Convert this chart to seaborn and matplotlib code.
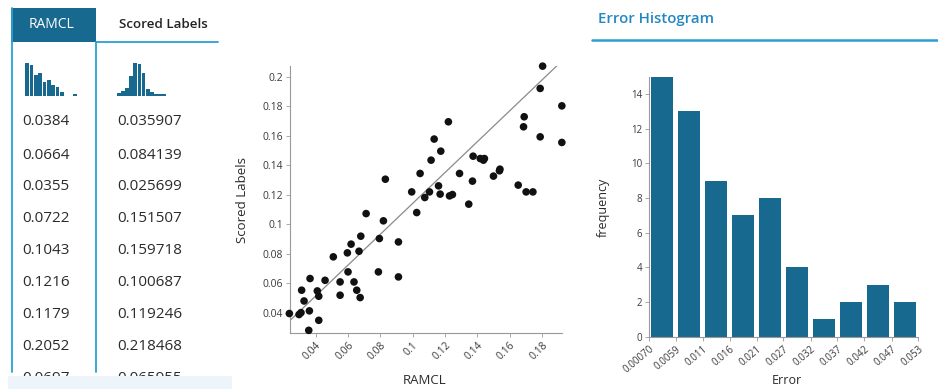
import numpy as np
import pandas as pd
import matplotlib
matplotlib.use("Agg")
import matplotlib.pyplot as plt
from matplotlib.patches import Rectangle
from matplotlib.lines import Line2D
import seaborn as sns

# ---- data -------------------------------------------------------------
ramcl = [0.0237, 0.0297, 0.0309, 0.0313, 0.0328, 0.0361, 0.0365, 0.0357, 0.0410, 0.0419,
         0.0419, 0.0458, 0.0509, 0.0551, 0.0551, 0.0596, 0.0600, 0.0619, 0.0637, 0.0654,
         0.0668, 0.0675, 0.0679, 0.0712, 0.0788, 0.0794, 0.0819, 0.0831, 0.0912, 0.0912,
         0.0994, 0.1025, 0.1046, 0.1075, 0.1104, 0.1114, 0.1133, 0.1160, 0.1174, 0.1170,
         0.1221, 0.1228, 0.1246, 0.1290, 0.1347, 0.1370, 0.1374, 0.1418, 0.1438, 0.1444,
         0.1500, 0.1537, 0.1540, 0.1653, 0.1686, 0.1690, 0.1702, 0.1744, 0.1789, 0.1789,
         0.1804, 0.1923, 0.1923]
scored = [0.0396, 0.0389, 0.0402, 0.0554, 0.0481, 0.0414, 0.0633, 0.0282, 0.0549, 0.0513,
          0.0350, 0.0621, 0.0780, 0.0610, 0.0520, 0.0807, 0.0678, 0.0866, 0.0610, 0.0554,
          0.0818, 0.0504, 0.0920, 0.1073, 0.0678, 0.0904, 0.1024, 0.1306, 0.0881, 0.0644,
          0.1220, 0.1080, 0.1345, 0.1182, 0.1220, 0.1435, 0.1578, 0.1261, 0.1496, 0.1205,
          0.1695, 0.1193, 0.1202, 0.1345, 0.1137, 0.1293, 0.1462, 0.1446, 0.1435, 0.1446,
          0.1327, 0.1363, 0.1374, 0.1266, 0.1661, 0.1729, 0.1220, 0.1220, 0.1593, 0.1921,
          0.2072, 0.1803, 0.1555]

# reference line drawn across the scatter
ref_x = [0.0199, 0.1934]
ref_y = [0.0305, 0.2118]

# error histogram
err_edge_labels = ["0.00070", "0.0059", "0.011", "0.016", "0.021", "0.027",
                   "0.032", "0.037", "0.042", "0.047", "0.053"]
err_edges = [0.0007, 0.0059, 0.0111, 0.0164, 0.0216, 0.0268,
             0.0321, 0.0373, 0.0425, 0.0478, 0.0530]
err_counts = [15, 13, 9, 7, 8, 4, 1, 2, 3, 2]

# table preview
ramcl_rows = ["0.0384", "0.0664", "0.0355", "0.0722", "0.1043", "0.1216", "0.1179", "0.2052", "0.0697"]
scored_rows = ["0.035907", "0.084139", "0.025699", "0.151507", "0.159718", "0.100687",
               "0.119246", "0.218468", "0.065955"]
ramcl_spark = [1.0, 0.93, 0.62, 0.68, 0.42, 0.48, 0.33, 0.28, 0.12, 0.0, 0.0, 0.07]
scored_spark = [0.08, 0.15, 0.25, 0.6, 1.0, 0.95, 0.7, 0.2, 0.12, 0.07, 0.05, 0.06]

# ---- styling ------------------------------------------------------------
sns.set_theme(style="white")
plt.rcParams["font.family"] = ["Open Sans", "DejaVu Sans"]

W, H = 938, 389
BAR = "#17698f"
ACCENT = "#2a9fd2"
TEXT = "#2b2b2b"
TICK = "#3a3a3a"

fig = plt.figure(figsize=(W / 100, H / 100), dpi=100)
fig.patch.set_facecolor("white")


def box(l, t, r, b):
    return [l / W, 1 - b / H, (r - l) / W, (b - t) / H]


def fx(x):
    return x / W


def fy(y):
    return 1 - y / H


# ---- table preview -------------------------------------------------------
fig.patches.append(Rectangle((fx(11), fy(42)), fx(96) - fx(11), fy(8) - fy(42),
                             transform=fig.transFigure, facecolor=BAR, edgecolor="none"))
fig.text(fx(51), fy(24), "RAMCL", color="white", fontsize=10, ha="center", va="center")
fig.text(fx(163), fy(24), "Scored Labels", color="#222222", fontsize=9.6,
         ha="center", va="center", fontweight="semibold")
fig.lines.append(Line2D([fx(96), fx(218)], [fy(42), fy(42)], transform=fig.transFigure,
                        color=ACCENT, lw=1.3))
for xv in (11.5, 96):
    fig.lines.append(Line2D([fx(xv), fx(xv)], [fy(8 if xv < 50 else 42), fy(372)],
                            transform=fig.transFigure, color=ACCENT, lw=1.3))

for vals, rect in ((ramcl_spark, box(25, 62, 77, 96)), (scored_spark, box(117, 62, 166, 96))):
    sax = fig.add_axes(rect)
    sns.barplot(x=list(range(len(vals))), y=vals, color=BAR, width=0.92,
                saturation=1, ax=sax, linewidth=0)
    sax.set_ylim(0, 1.02)
    sax.set_axis_off()

row_y = [121, 155, 187, 218, 250, 282, 314, 346, 379]
for yy, a, b in zip(row_y, ramcl_rows, scored_rows):
    fig.text(fx(22), fy(yy), a, color=TEXT, fontsize=11, ha="left", va="center")
    fig.text(fx(117), fy(yy), b, color=TEXT, fontsize=11, ha="left", va="center")
# scroll fade over the partially visible last row
fig.patches.append(Rectangle((fx(8), 0), fx(232) - fx(8), fy(376),
                             transform=fig.transFigure, facecolor="#eef5fa",
                             edgecolor="none", zorder=5))

# ---- scatter -------------------------------------------------------------
ax = fig.add_axes(box(290, 66, 562, 333))
df = pd.DataFrame({"RAMCL": ramcl, "Scored Labels": scored})
sns.scatterplot(data=df, x="RAMCL", y="Scored Labels", color="#111111",
                s=30, edgecolor="none", ax=ax, zorder=3, clip_on=False)
sns.lineplot(x=ref_x, y=ref_y, color="#8a8a8a", lw=0.9, ax=ax, zorder=2)
ax.set_xlim(0.0241, 0.1924)
ax.set_ylim(0.0264, 0.2073)
xt = [0.04, 0.06, 0.08, 0.1, 0.12, 0.14, 0.16, 0.18]
yt = [0.04, 0.06, 0.08, 0.1, 0.12, 0.14, 0.16, 0.18, 0.2]
ax.set_xticks(xt)
ax.set_xticklabels([f"{v:g}" for v in xt], rotation=45, ha="right",
                   rotation_mode="anchor", fontsize=7.5, color=TICK)
ax.set_yticks(yt)
ax.set_yticklabels([f"{v:g}" for v in yt], fontsize=7.5, color=TICK)
ax.tick_params(axis="both", length=3, width=0.6, color="#999999", pad=2,
               bottom=True, left=True)
for s in ("top", "right"):
    ax.spines[s].set_visible(False)
for s in ("left", "bottom"):
    ax.spines[s].set_color("#999999")
    ax.spines[s].set_linewidth(0.8)
ax.set_xlabel("")
ax.set_ylabel("")
ax.set_facecolor("none")
fig.text(fx(425), fy(380), "RAMCL", fontsize=9.5, color=TEXT, ha="center", va="center")
fig.text(fx(243), fy(200), "Scored Labels", fontsize=9.5, color=TEXT, ha="center",
         va="center", rotation=90)

# ---- error histogram --------------------------------------------------------
fig.text(fx(598), fy(19), "Error Histogram", fontsize=10.8, color="#2388c0",
         ha="left", va="center", fontweight="semibold")
fig.lines.append(Line2D([fx(592), fx(938)], [fy(40), fy(40)], transform=fig.transFigure,
                        color=ACCENT, lw=1.8))

hax = fig.add_axes(box(649, 76.7, 918.3, 336.7))
centers = [(a + b) / 2 for a, b in zip(err_edges[:-1], err_edges[1:])]
sns.histplot(x=centers, weights=err_counts, bins=err_edges, shrink=0.82,
             color=BAR, alpha=1, edgecolor="none", ax=hax)
hax.set_xlim(err_edges[0], err_edges[-1])
hax.set_ylim(0, 15)
hax.set_xticks(err_edges)
hax.set_xticklabels(err_edge_labels, rotation=40, ha="right", rotation_mode="anchor",
                    fontsize=7, color=TICK)
hax.set_yticks(range(0, 15, 2))
hax.set_yticklabels([str(v) for v in range(0, 15, 2)], fontsize=7, color=TICK)
hax.tick_params(axis="both", length=3, width=0.6, color="#999999", pad=2,
                bottom=True, left=True)
for s in ("top", "right"):
    hax.spines[s].set_visible(False)
for s in ("left", "bottom"):
    hax.spines[s].set_color("#999999")
    hax.spines[s].set_linewidth(0.8)
hax.set_xlabel("")
hax.set_ylabel("")
hax.set_facecolor("none")
fig.text(fx(787), fy(381), "Error", fontsize=9, color=TEXT, ha="center", va="center")
fig.text(fx(603), fy(207), "frequency", fontsize=9, color=TEXT, ha="center",
         va="center", rotation=90)

fig.savefig("out.png", dpi=100, facecolor="white")
